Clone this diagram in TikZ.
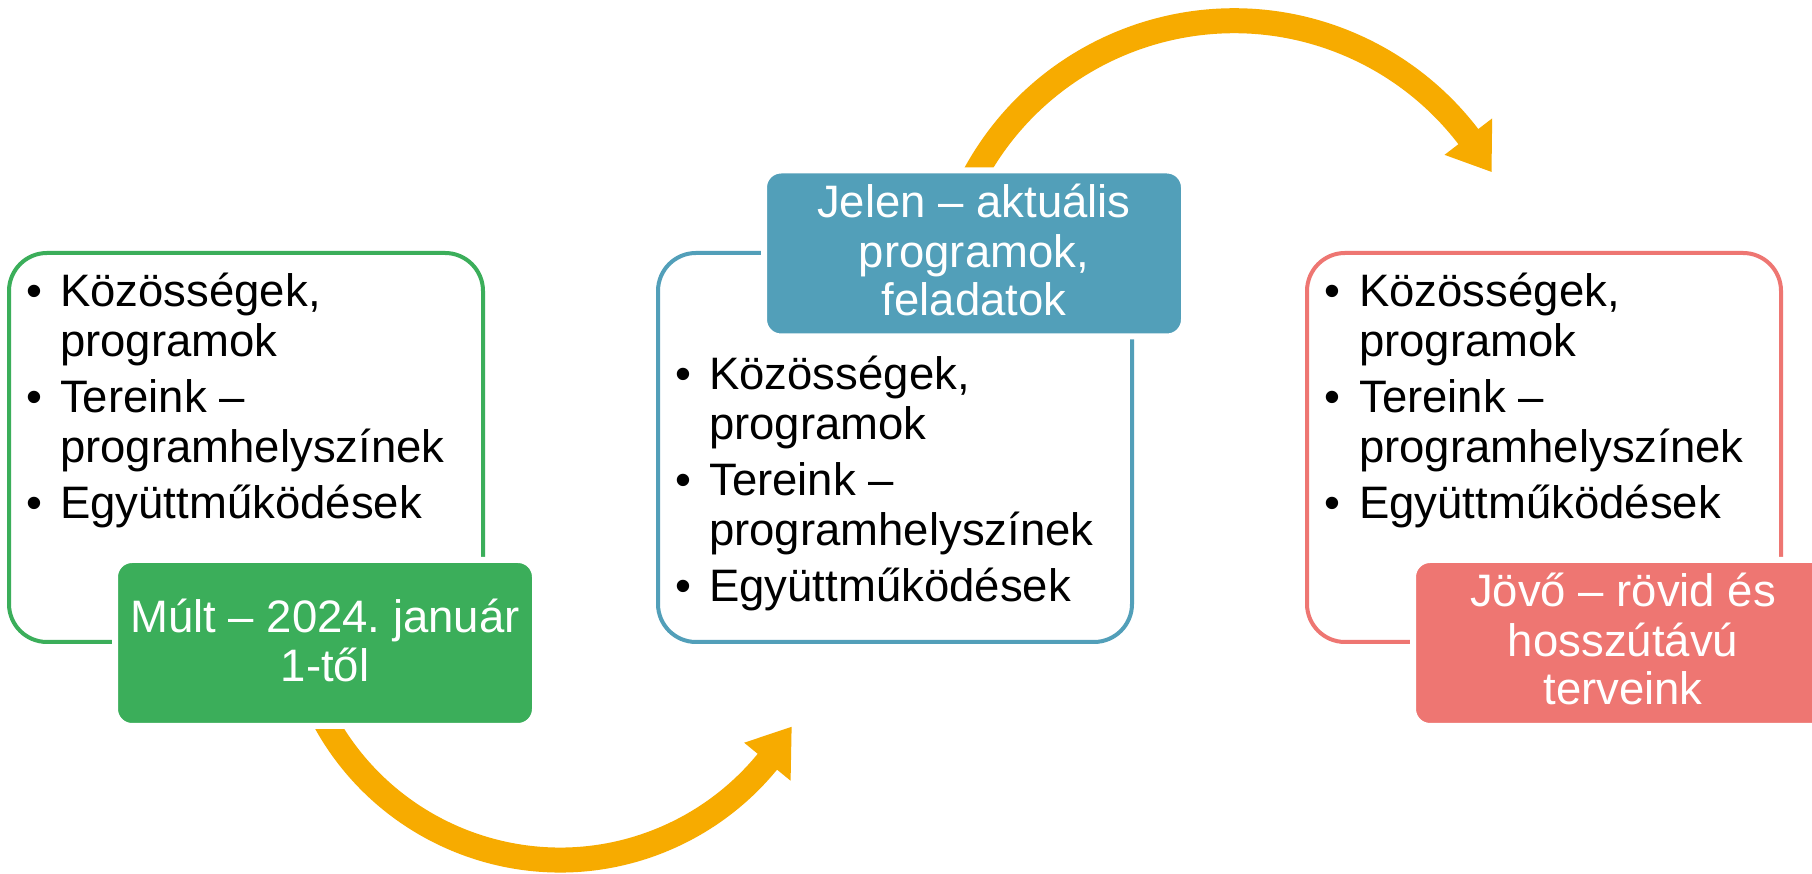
\documentclass[tikz,border=0pt]{standalone}
\usepackage{fontspec}
\setmainfont{Liberation Sans}
\usetikzlibrary{calc}
\definecolor{cgreen}{HTML}{3BAE5A}
\definecolor{cblue}{HTML}{529FB9}
\definecolor{cred}{HTML}{EE7672}
\definecolor{corange}{HTML}{F7AB00}
\tikzset{
  outlinebox/.style={line width=4pt, rounded corners=38pt},
  fillbox/.style={draw=white, line width=6pt, fill=#1, rounded corners=17pt,
    minimum width=420pt, minimum height=166pt, inner sep=0pt},
  txt/.style={inner sep=0pt, anchor=base west, font=\fontsize{45.5}{50}\selectfont, text=black},
  bul/.style={inner sep=0pt, anchor=base west, font=\fontsize{45.5}{50}\selectfont, text=black},
  htxt/.style={inner sep=0pt, anchor=base, font=\fontsize{45.5}{50}\selectfont, text=white},
  shaft/.style={draw=corange, line width=25pt},
  headtip/.style={fill=corange},
}
\newcommand\mylist[4]{%
  \node[bul] (#1b1) at (#2,874-#4) {•};
  \node[txt] (#1l1) at (#3,874-#4) {Közösségek,};
  \node[txt] (#1l2) at (#3,874-#4-50) {programok};
  \node[bul] (#1b2) at (#2,874-#4-106) {•};
  \node[txt] (#1l3) at (#3,874-#4-106) {Tereink –};
  \node[txt] (#1l4) at (#3,874-#4-156) {programhelyszínek};
  \node[bul] (#1b3) at (#2,874-#4-212) {•};
  \node[txt] (#1l5) at (#3,874-#4-212) {Együttműködések};
}
\frenchspacing
\begin{document}
\begin{tikzpicture}[x=1pt,y=1pt]
\clip (0,0) rectangle (1812,874);
\fill[white] (0,0) rectangle (1812,874);

% outline boxes
\draw[outlinebox, draw=cgreen] (9,232) rectangle (483,621);
\draw[outlinebox, draw=cblue] (658,232) rectangle (1132,621);
\draw[outlinebox, draw=cred] (1307,232) rectangle (1781,621);

% arrows
\coordinate (bc) at (560,282);
\coordinate (tc) at (1234,558.2);
\draw[shaft] ($(bc)+(205:268)$) arc[start angle=205, end angle=321.5, radius=268pt];
\fill[headtip] ($(bc)+(320.7:238)$) -- ($(bc)+(320.7:298)$) -- ($(bc)+(329.8:268)$) -- cycle;
\draw[shaft] ($(tc)+(155:295)$) arc[start angle=155, end angle=36.6, radius=295pt];
\fill[headtip] ($(tc)+(37.4:265)$) -- ($(tc)+(37.4:325)$) -- ($(tc)+(29.2:295)$) -- cycle;

% filled header boxes
\node[fillbox=cgreen] (gfill) at (325,231) {};
\node[fillbox=cblue] (bfill) at (974,620.5) {};
\node[fillbox=cred] (rfill) at (1623,231) {};

% header texts
\node[htxt] (g1) at (325,241) {Múlt – 2024. január};
\node[htxt] (g2) at (325,192) {1-től};
\node[htxt] (j1) at (974,656) {Jelen – aktuális};
\node[htxt] (j2) at (974,606) {programok,};
\node[htxt] (j3) at (974,558) {feladatok};
\node[htxt] (r1) at (1623,267) {Jövő – rövid és};
\node[htxt] (r2) at (1623,217) {hosszútávú};
\node[htxt] (r3) at (1623,169) {terveink};

% lists
\mylist{g}{26}{60}{307}
\mylist{b}{675}{709}{390}
\mylist{r}{1324}{1359}{307}
\end{tikzpicture}
\end{document}
